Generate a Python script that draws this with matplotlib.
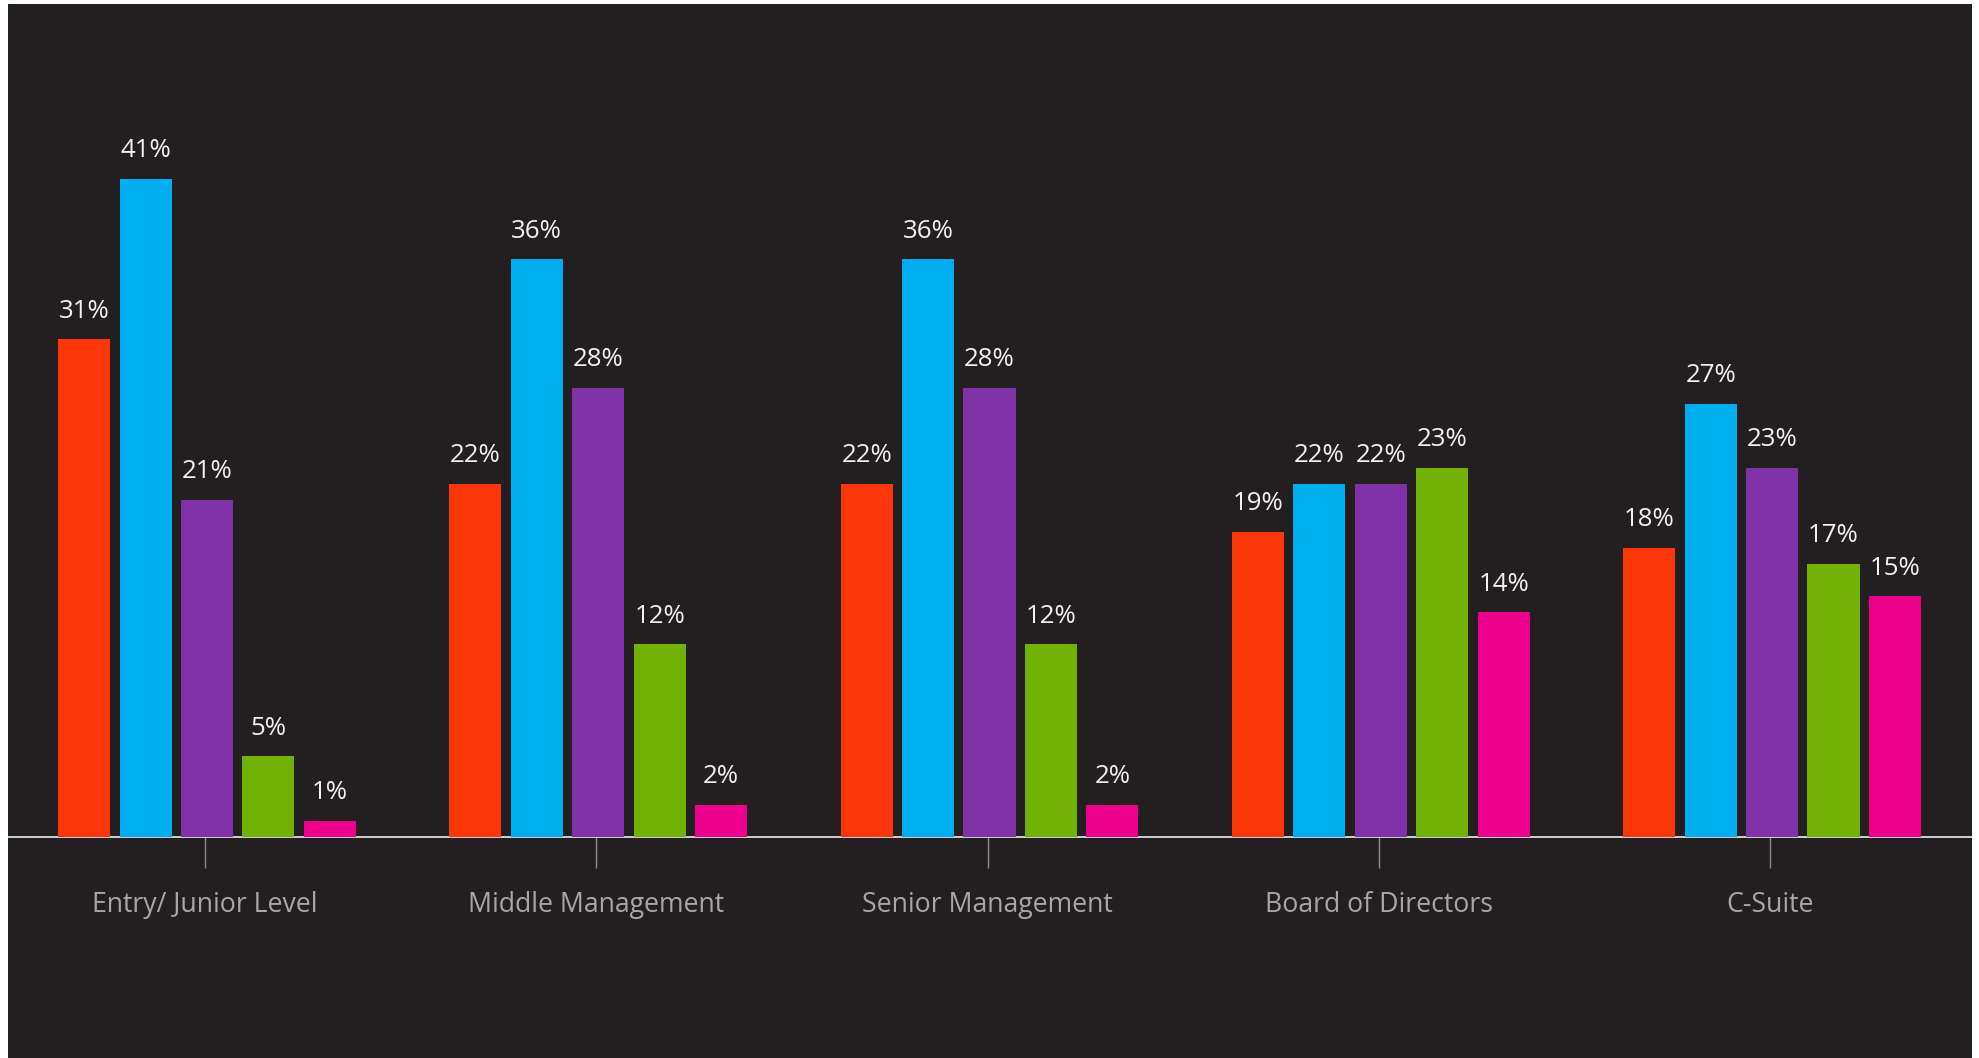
import numpy as np
import matplotlib.pyplot as plt

categories = ["Entry/ Junior Level", "Middle Management", "Senior Management",
              "Board of Directors", "C-Suite"]
series_1 = [31, 22, 22, 19, 18]
series_2 = [41, 36, 36, 22, 27]
series_3 = [21, 28, 28, 22, 23]
series_4 = [5, 12, 12, 23, 17]
series_5 = [1, 2, 2, 14, 15]
all_series = [series_1, series_2, series_3, series_4, series_5]
colors = ["#fb370a", "#00aeef", "#8031a7", "#72b204", "#ec008c"]

plt.rcParams["font.family"] = ["Open Sans", "DejaVu Sans"]

W, H, DPI = 1979, 1058, 100
fig = plt.figure(figsize=(W / DPI, H / DPI), dpi=DPI, facecolor="white")
bg = "#231f20"
ax = fig.add_axes([8 / W, 0, 1964 / W, 1054 / H], facecolor=bg)

x = np.arange(len(categories))
pitch = 0.157
width = 0.133

for k, (vals, c) in enumerate(zip(all_series, colors)):
    pos = x + (k - 2) * pitch + 0.005
    bars = ax.bar(pos, vals, width=width, color=c, zorder=3)
    for b, v in zip(bars, vals):
        ax.annotate(f"{v}%", (b.get_x() + b.get_width() / 2, v),
                    xytext=(0, 15.5), textcoords="offset points",
                    ha="center", va="baseline", color="#f2f2f2",
                    fontsize=18.6, zorder=4)

ax.set_xlim(-0.5035, 4.516)
ax.set_ylim(-13.8, 51.91)

for s in ["top", "right", "left"]:
    ax.spines[s].set_visible(False)
ax.spines["bottom"].set_position(("data", 0))
ax.spines["bottom"].set_color("white")
ax.spines["bottom"].set_linewidth(1.1)
ax.spines["bottom"].set_zorder(2)

ax.set_yticks([])
ax.set_xticks(x)
ax.set_xticklabels(categories)
ax.tick_params(axis="x", direction="out", length=22.3, width=1.0,
               color="#8c8c8c", pad=16.8, labelsize=19.2, labelcolor="#a7a7aa")

fig.savefig("out.png", dpi=DPI, facecolor="white")
